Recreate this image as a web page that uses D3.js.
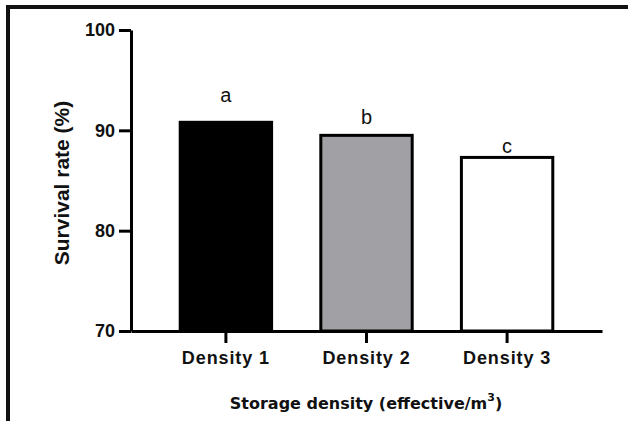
<!DOCTYPE html>
<html>
<head>
<meta charset="utf-8">
<script src="https://cdn.jsdelivr.net/npm/d3@7"></script>
<style>
  body { margin: 0; background: #fff; overflow: hidden; }
  svg { display: block; }
</style>
</head>
<body>
<svg class="bars" width="628" height="421"></svg>
<script>
// data
const categories = ["Density 1", "Density 2", "Density 3"];
const survival = [90.8, 89.5, 87.3];
const letters = ["a", "b", "c"];
const letterAt = [92.8, 90.6, 87.7];   // where the significance letter sits (in %)
const yTicks = [70, 80, 90, 100];
const fills = ["#000000", "#a1a1a5", "#ffffff"];

(function survivalBarIIFE(){
    let svg = d3.select("svg.bars");

    // outer frame (only left + top visible)
    svg.append("path")
        .attr("d", "M8,421V7H628")
        .attr("fill", "none")
        .attr("stroke", "#111")
        .attr("stroke-width", 4);

    let x = d3.scaleBand().domain(categories).range([131, 602]).paddingInner(0.35).paddingOuter(0.35),
        y = d3.scaleLinear().domain([70, 100]).range([331, 30]);

    //y axis
    let yAxis = svg.append("g")
        .attr("transform", "translate(131,0)")
        .call(d3.axisLeft(y).tickValues(yTicks).tickSize(12).tickPadding(4).tickSizeOuter(0));

    //x axis
    let xAxis = svg.append("g")
        .attr("transform", "translate(0,331)")
        .call(d3.axisBottom(x).tickSize(12).tickPadding(8).tickSizeOuter(0));

    [yAxis, xAxis].forEach(function(a) {
        a.select(".domain").attr("stroke", "#000").attr("stroke-width", 3);
        a.selectAll(".tick line").attr("stroke", "#000").attr("stroke-width", 3);
        a.selectAll(".tick text")
            .attr("fill", "#111")
            .style("font-family", "'Liberation Sans', Arial, sans-serif")
            .style("font-weight", "bold")
            .style("font-size", "18px");
    });
    xAxis.selectAll(".tick text").style("letter-spacing", "0.9px");

    //bars
    svg.selectAll(".bar")
        .data(survival)
        .enter()
        .append("rect")
        .attr("class", "bar")
        .attr("x", function(d, i) { return x(categories[i]); })
        .attr("width", x.bandwidth())
        .attr("y", function(d) { return y(d); })
        .attr("height", function(d) { return y(70) - y(d); })
        .attr("fill", function(d, i) { return fills[i]; })
        .attr("stroke", "#000")
        .attr("stroke-width", 3);

    // redraw the x domain on top of bar bottoms
    xAxis.raise();

    //letters
    svg.selectAll(".sig")
        .data(letters)
        .enter()
        .append("text")
        .attr("class", "sig")
        .attr("x", function(d, i) { return x(categories[i]) + x.bandwidth() / 2; })
        .attr("y", function(d, i) { return y(letterAt[i]); })
        .attr("text-anchor", "middle")
        .style("font-family", "'Liberation Sans', Arial, sans-serif")
        .style("font-size", "20px")
        .attr("fill", "#111")
        .text(function(d) { return d; });

    //axis titles
    let xt = svg.append("text")
        .attr("x", 366).attr("y", 409)
        .attr("text-anchor", "middle")
        .style("font-family", "'DejaVu Sans', Verdana, sans-serif")
        .style("font-weight", "bold")
        .style("font-size", "16px")
        .attr("fill", "#111");
    xt.append("tspan").text("Storage density (effective/m");
    xt.append("tspan").attr("dy", -8).style("font-size", "11px").text("3");
    xt.append("tspan").attr("dy", 8).text(")");

    svg.append("text")
        .attr("transform", "translate(69,183) rotate(-90)")
        .attr("text-anchor", "middle")
        .style("font-family", "'Liberation Sans', Arial, sans-serif")
        .style("font-weight", "bold")
        .style("font-size", "21px")
        .attr("fill", "#111")
        .text("Survival rate (%)");
})();
</script>
</body>
</html>
